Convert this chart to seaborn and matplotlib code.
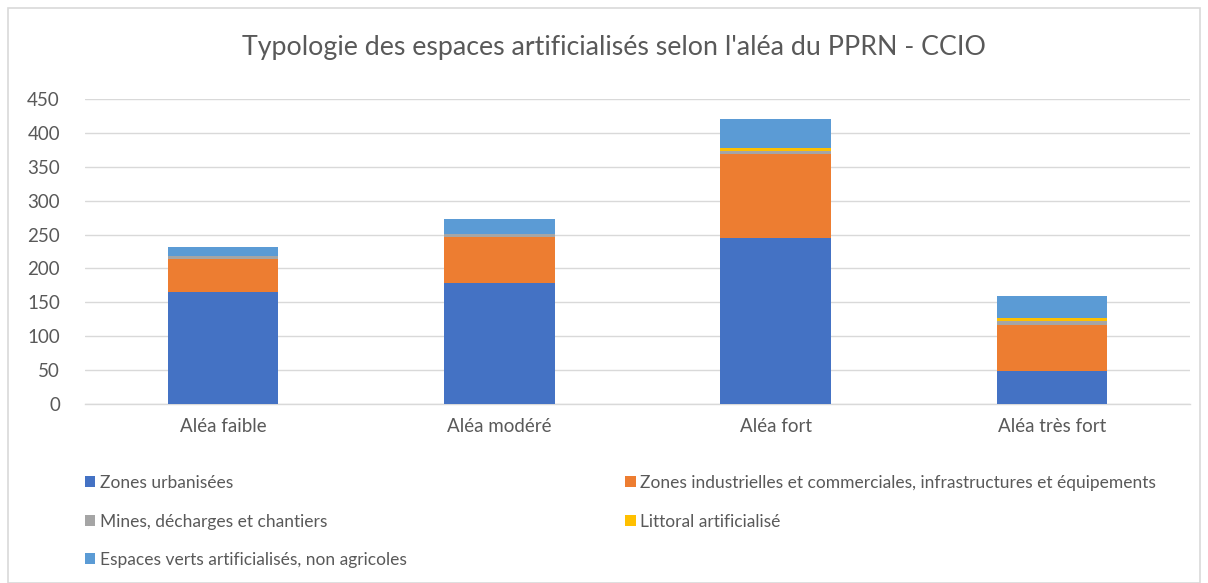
import numpy as np
import pandas as pd
import matplotlib
matplotlib.use("Agg")
import matplotlib.pyplot as plt
from matplotlib.patches import Patch, Rectangle
import seaborn as sns

categories = ["Aléa faible", "Aléa modéré", "Aléa fort", "Aléa très fort"]
series_names = [
    "Zones urbanisées",
    "Zones industrielles et commerciales, infrastructures et équipements",
    "Mines, décharges et chantiers",
    "Littoral artificialisé",
    "Espaces verts artificialisés, non agricoles",
]
zones_urbanisees = [165, 178, 245, 48]
zones_industrielles = [49, 69, 124, 69]
mines = [4, 4, 5, 5]
littoral = [0, 0, 4, 5]
espaces_verts = [14, 22, 42, 32]
colors = ["#4472C4", "#ED7D31", "#A5A5A5", "#FFC000", "#5B9BD5"]
yticks = [0, 50, 100, 150, 200, 250, 300, 350, 400, 450]
title = "Typologie des espaces artificialisés selon l'aléa du PPRN - CCIO"

sns.set_theme(style="white")
plt.rcParams["font.family"] = ["Lato", "DejaVu Sans"]
txt = "#595959"

values = np.array([zones_urbanisees, zones_industrielles, mines, littoral, espaces_verts], dtype=float)
cum = np.cumsum(values, axis=0)

fig = plt.figure(figsize=(12.08, 5.83), dpi=100)
ax = fig.add_axes([85/1208, 1-404/583, (1190-85)/1208, (404-99)/583])

for i in range(len(series_names) - 1, -1, -1):
    df = pd.DataFrame({"cat": categories, "val": cum[i]})
    sns.barplot(data=df, x="cat", y="val", color=colors[i], saturation=1,
                width=0.4, ax=ax, edgecolor="none", zorder=3)

ax.set_xlim(-0.5, 3.5)
ax.set_ylim(0, 450)
ax.set_yticks(yticks)
ax.set_yticklabels([str(t) for t in yticks], fontsize=13.5, color=txt)
ax.tick_params(axis="x", labelsize=13.5, labelcolor=txt, length=0, pad=10)
ax.tick_params(axis="y", length=0, pad=18)
ax.set_xlabel("")
ax.set_ylabel("")
ax.grid(axis="y", color="#d9d9d9", linewidth=1, zorder=0)
ax.set_axisbelow(True)
for s in ["left", "right", "top"]:
    ax.spines[s].set_visible(False)
ax.spines["bottom"].set_color("#d9d9d9")
ax.spines["bottom"].set_linewidth(1)

fig.text(614/1208, 1-47/583, title, ha="center", va="center", fontsize=19.3, color=txt)

handles = [Patch(facecolor=c, edgecolor="none") for c in colors]
order = [0, 2, 4, 1, 3]
leg = fig.legend([handles[i] for i in order], [series_names[i] for i in order],
                 ncol=2, loc="upper left", bbox_to_anchor=(78/1208, 1-468/583),
                 frameon=False, fontsize=12.5, labelcolor=txt,
                 handlelength=0.6, handleheight=0.6, handletextpad=0.25,
                 labelspacing=1.3, columnspacing=12.6, borderaxespad=0)

fig.patches.append(Rectangle((8/1208, 0), (1200-8)/1208, 1-8/583, transform=fig.transFigure,
                             fill=False, edgecolor="#d9d9d9", linewidth=1.2))

fig.savefig("out.png", dpi=100, facecolor="white")
